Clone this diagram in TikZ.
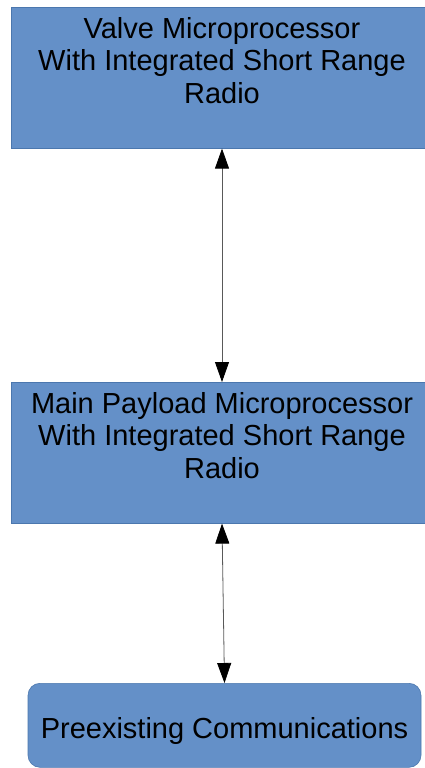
\documentclass[tikz,border=0pt]{standalone}
\usepackage{fontspec}
\setmainfont{Liberation Sans}
\usetikzlibrary{arrows.meta}
\definecolor{boxblue}{HTML}{6490C8}
\definecolor{edgeblue}{HTML}{4B77AE}

\begin{document}
\begin{tikzpicture}[
  x=1pt, y=-1pt,
  font=\fontsize{29}{32.5}\selectfont,
  every node/.style={align=center},
  cpubox/.style={rectangle, draw=edgeblue, fill=boxblue, line width=0.6pt,
                 inner sep=0pt, minimum width=422pt, anchor=north,
                 text height=96pt, text depth=45pt},
  commbox/.style={rectangle, rounded corners=12pt, draw=edgeblue, fill=boxblue,
                  line width=0.6pt, inner sep=0pt, minimum width=393pt,
                  anchor=north, text height=55pt, text depth=29pt},
  link/.style={line width=0.8pt, draw=gray!70!black},
  >={Triangle[width=14pt,length=20pt,color=black]}
]
\useasboundingbox (0,0) rectangle (425,768);

% ---- Valve side -------------------------------------------------------------
\node[cpubox] (valve) at (222, 7) {%
  Valve Microprocessor\\
  With Integrated Short Range\\
  Radio
};

% ---- Payload side -----------------------------------------------------------
\node[cpubox] (payload) at (222, 382) {%
  Main Payload Microprocessor\\
  With Integrated Short Range\\
  Radio
};

% ---- Existing link ----------------------------------------------------------
\node[commbox] (comms) at (224.5, 683) {Preexisting Communications};

% ---- Links --------------------------------------------------------------------
\draw[link, <->] (valve.south) -- (payload.north);
\draw[link, <->] (payload.south) -- (comms.north);

\end{tikzpicture}
\end{document}
